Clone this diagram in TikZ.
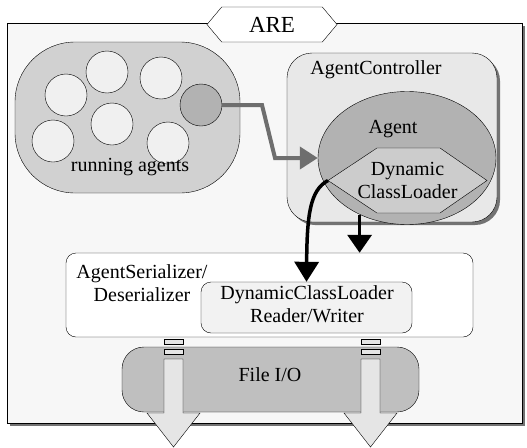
\documentclass[tikz,border=0pt]{standalone}
\usepackage{fontspec}
\setmainfont{Liberation Serif}
\usetikzlibrary{positioning,shadows,shapes,arrows.meta}

\begin{document}
\begin{tikzpicture}
    [x=1pt, y=-1pt, font=\fontsize{20}{23}\selectfont,
    every node/.style={align=center, inner sep=0pt},
    box/.style={draw=black, thin, rectangle, rounded corners=#1},
    box/.default=0pt,
    agentball/.style={draw=black, thin, circle, minimum size=42pt, fill=black!6},
    hexa/.style={draw=black, thin, signal, signal to=west and east},
    shade/.style={drop shadow={shadow xshift=3pt, shadow yshift=-3pt,
        fill=black!55, opacity=1}},
    hollow/.style={draw=black, thin, fill=black!10}]
    \useasboundingbox (0,0) rectangle (527,447);

    % runtime environment frame
    \node[box, fill=black!3, minimum width=515pt, minimum height=400pt,
        shade] (are) at (264.5,223) {};
    \node[hexa, fill=white, signal pointer angle=100, minimum width=130pt,
        minimum height=35pt, font=\fontsize{23}{26}\selectfont]
        (arelabel) at (272,24.5) {ARE};

    % pool of running agents
    \node[box=60pt, fill=black!18, minimum width=225pt,
        minimum height=151pt] (running) at (127.5,117.5) {};
    \foreach \name/\px/\py in {a1/66/95, a2/107/72, a3/161/78,
        a4/112/124, a5/53/141, a6/168/143}
        \node[agentball] (\name) at (\px,\py) {};
    \node[agentball, fill=black!30] (moving) at (201,105) {};
    \node (runlabel) at (130,167) {running agents};

    % controller with the agent inside
    \node[box=25pt, fill=black!9, minimum width=210pt, minimum height=169pt,
        shade] (ctrl) at (392,137.5) {};
    \node (ctrllabel) at (376,70) {AgentController};
    \node[draw=black, thin, ellipse, fill=black!30, minimum width=178pt,
        minimum height=133pt] (agent) at (407,158) {};
    \node (agentlabel) at (393,129) {Agent};
    \coordinate (loadertip) at (328,180.5);
    \draw[thin, fill=black!20] (loadertip) -- (377,148) -- (440,148)
        -- (487,180.5) -- (440,213) -- (377,213) -- cycle;
    \node (loader) at (407.5,180.5) {Dynamic\\ClassLoader};

    \draw[line width=4pt, black!57, -{Triangle[length=18pt, width=22pt]}]
        (moving.east) -- (262,105) -- (275,158) -- (agent.west);

    % serializer
    \node[box=10pt, fill=white, minimum width=407pt, minimum height=84pt]
        (ser) at (269.5,295) {};
    \node (serlabel) at (142,283) {AgentSerializer/\\Deserializer};
    \node[box=10pt, fill=black!5, minimum width=211pt, minimum height=51pt]
        (rw) at (306.5,307.5) {};
    \node (rwlabel) at (307,304) {DynamicClassLoader\\Reader/Writer};

    % file i/o
    \node[box=22pt, fill=black!25, minimum width=297pt, minimum height=65pt]
        (fileio) at (270.5,379.5) {};
    \node (iolabel) at (270,375) {File I/O};
    \foreach \cx in {173.5,370.5} {
        \draw[hollow] (\cx-9.5,339) rectangle (\cx+9.5,344);
        \draw[hollow] (\cx-9.5,349) rectangle (\cx+9.5,354);
        \draw[hollow] (\cx-9.5,359) -- (\cx-9.5,413) -- (\cx-26.5,413)
            -- (\cx,447) -- (\cx+26.5,413) -- (\cx+9.5,413)
            -- (\cx+9.5,359) -- cycle;
    }

    \draw[line width=3.5pt, -{Triangle[length=20pt, width=24pt]}]
        (loadertip) .. controls (310,190) and (307,215) .. (rw.north);
    \draw[line width=3.5pt, -{Triangle[length=18pt, width=24pt]}]
        (agent.230) -- (agent.230 |- ser.north);
\end{tikzpicture}
\end{document}
